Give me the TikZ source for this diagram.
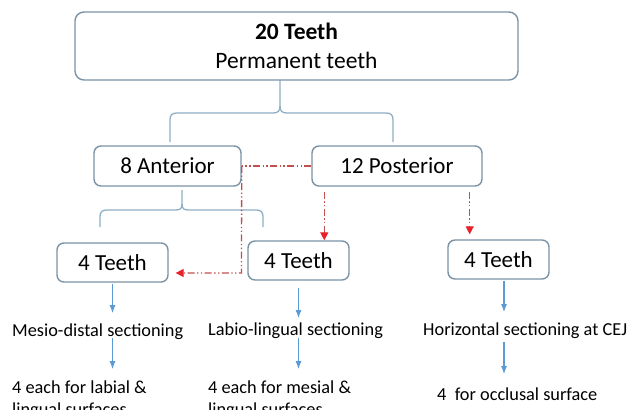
\documentclass[tikz,border=0pt]{standalone}
\usepackage{fontspec}
\setmainfont{Carlito}
\usetikzlibrary{arrows.meta}
\definecolor{boxc}{HTML}{7A93A6}
\definecolor{bracec}{HTML}{8EAFC6}
\definecolor{arrc}{HTML}{5B9BD5}
\definecolor{redl}{HTML}{C0504D}
\definecolor{redt}{HTML}{E8202A}
\begin{document}
\begin{tikzpicture}[x=1pt,y=-1pt,
  box/.style={draw=boxc,line width=1.4pt,rounded corners=7pt,fill=white,inner sep=0pt,font=\fontsize{23}{28}\selectfont},
  lbl/.style={inner sep=0pt,anchor=base west,font=\fontsize{18.3}{22}\selectfont},
  barrow/.style={draw=arrc,line width=1.1pt,-{Latex[length=8pt,width=6pt]}},
  brace/.style={draw=bracec,line width=1.3pt},
  redd/.style={draw=redl,line width=1.3pt,dash pattern=on 7pt off 2.5pt on 1.3pt off 2.5pt on 1.3pt off 2.5pt},
  redarrow/.style={redd,-{Triangle[length=8pt,width=8pt,fill=redt,color=redt]}}
]
\useasboundingbox (0,0) rectangle (636,409);
\clip (0,0) rectangle (636,409);

% braces
\draw[brace] (280,80) -- (280,106) .. controls (280,111) and (278,113) .. (273,113) -- (177,113) .. controls (172,113) and (170,115) .. (170,120) -- (170,142);
\draw[brace] (280,106) .. controls (280,111) and (282,113) .. (287,113) -- (386,113) .. controls (391,113) and (393,115) .. (393,120) -- (393,142);
\draw[brace] (182,190) -- (182,204) .. controls (182,209) and (180,210) .. (175,210) -- (107,210) .. controls (102,210) and (100,212) .. (100,217) -- (100,227);
\draw[brace] (182,204) .. controls (182,209) and (184,210) .. (189,210) -- (256,210) .. controls (261,210) and (263,212) .. (263,217) -- (263,227);

% boxes
\node[box, minimum width=443pt, minimum height=68pt, rounded corners=9pt, align=center, font=\fontsize{23.5}{29}\selectfont] (top) at (296.5,46) {\textbf{20 Teeth}\\Permanent teeth};
\node[box, minimum width=147pt, minimum height=40pt] (ant) at (167.5,166) {8 Anterior};
\node[box, minimum width=170pt, minimum height=40pt] (post) at (397,166) {12 Posterior};
\node[box, minimum width=111pt, minimum height=39pt] (t1) at (112.5,262.5) {4 Teeth};
\node[box, minimum width=101pt, minimum height=39pt] (t2) at (298.5,260.5) {4 Teeth};
\node[box, minimum width=101pt, minimum height=39pt] (t3) at (498.5,259.5) {4 Teeth};

% labels
\node[lbl] (s1) at (12,336) {Mesio-distal sectioning};
\node[lbl] (s2) at (208,335) {Labio-lingual sectioning};
\node[lbl] (s3) at (423,335) {Horizontal sectioning at CEJ};
\node[lbl, align=left] (b1) at (12,415) {4 each for labial \&\\lingual surfaces};
\node[lbl, align=left] (b2) at (208,415) {4 each for mesial \&\\lingual surfaces};
\node[lbl] (b3) at (437,400) {4\ \ for occlusal surface};

% blue arrows
\draw[barrow, shorten <=1pt, shorten >=10pt] (t1.south) -- (t1.south |- s1.north);
\draw[barrow, shorten <=-1pt, shorten >=11pt] (t1.south |- s1.south) -- (t1.south |- b1.north);
\draw[barrow, shorten <=7pt, shorten >=4pt] (t2.south) -- (t2.south |- s2.north);
\draw[barrow, shorten <=0pt, shorten >=11pt] (t2.south |- s2.south) -- (t2.south |- b2.north);
\draw[barrow, shorten <=1pt, shorten >=10pt] ([xshift=5.5pt]t3.south) -- ([xshift=5.5pt]t3.south |- s3.north);
\draw[barrow, shorten <=3.5pt, shorten >=13pt] ([xshift=5.5pt]t3.south |- s3.south) -- ([xshift=5.5pt]t3.south |- b3.north);

% red dash-dot connectors
\coordinate (rc) at (241.5,273);
\draw[redd] (post.west) -- (ant.east);
\draw[redarrow, shorten >=7pt] (ant.east) -- (rc) -- (rc -| t1.east);
\draw[redarrow, shorten <=5pt] ([xshift=13pt]post.south west) -- ([xshift=13pt]post.south west |- t2.north);
\draw[redarrow, shorten <=5pt, shorten >=5pt] ([xshift=-13pt]post.south east) -- ([xshift=-13pt]post.south east |- t3.north);
\end{tikzpicture}
\end{document}
